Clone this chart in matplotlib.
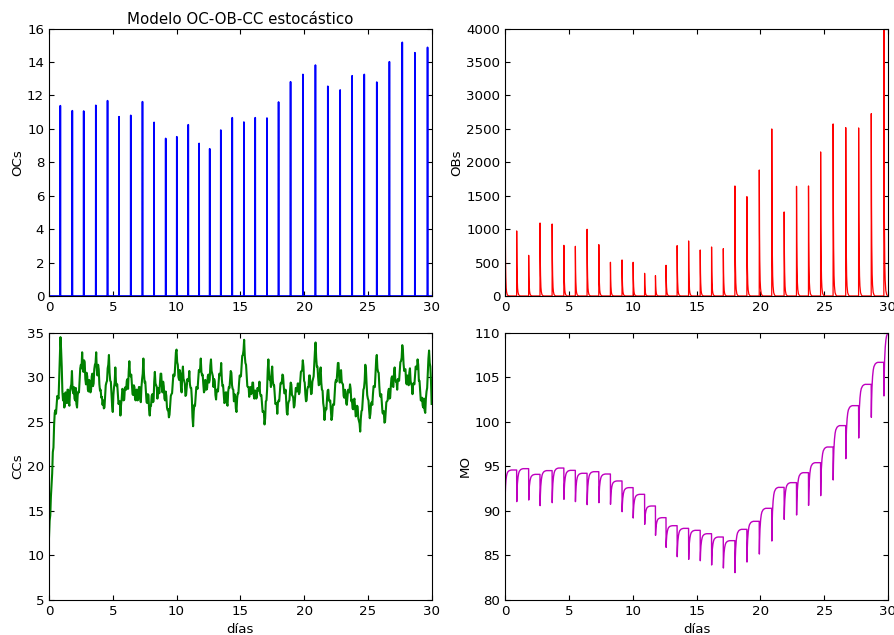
import numpy as np
import matplotlib
matplotlib.use("Agg")
import matplotlib.pyplot as plt

# ---- data -------------------------------------------------------------
# days at which each remodelling event (OC burst) happens
spike_days = [0.89, 1.83, 2.72, 3.67, 4.59, 5.49, 6.41, 7.33, 8.24, 9.15,
              10.02, 10.92, 11.77, 12.60, 13.47, 14.37, 15.28, 16.17, 17.09, 18.00,
              18.94, 19.91, 20.89, 21.86, 22.83, 23.77, 24.72, 25.70, 26.69, 27.70,
              28.69, 29.68]

# osteoclast peak at each event
oc_peaks = [11.39, 11.09, 11.07, 11.41, 11.69, 10.73, 10.81, 11.63, 10.39, 9.43,
            9.53, 10.25, 9.13, 8.81, 9.93, 10.67, 10.41, 10.67, 10.65, 11.61,
            12.82, 13.26, 13.82, 12.55, 12.33, 13.18, 13.26, 12.80, 14.02, 15.18,
            14.56, 14.88]

# osteoblast peak at each event (plus the initial value at day 0)
ob_initial = 1000
ob_peaks = [973, 608, 1092, 1077, 758, 743, 998, 768, 504, 539,
            504, 339, 304, 459, 753, 823, 688, 733, 708, 1646,
            1486, 1885, 2499, 1257, 1641, 1646, 2155, 2574, 2519, 2514,
            2728, 4000]
# decay of an OB burst: time after the peak (days) and fraction of the peak
ob_decay_dt = [0.0, 0.02, 0.04, 0.07, 0.10, 0.15, 0.22, 0.30]
ob_decay_frac = [1.0, 0.50, 0.28, 0.12, 0.06, 0.02, 0.005, 0.0]

# bone mass: level reached before each event and minimum right after it
mo_initial = 92.0
mo_plateaus = [94.59, 94.74, 94.10, 94.52, 94.81, 94.55, 94.22, 94.40, 94.14, 93.36,
               92.61, 91.86, 90.55, 89.24, 88.34, 88.04, 87.82, 87.44, 87.07, 86.66,
               87.93, 88.83, 90.29, 92.64, 93.17, 94.29, 95.41, 97.17, 99.57, 101.81,
               104.20, 106.67]
mo_dips = [91.04, 91.22, 90.59, 90.92, 91.30, 91.04, 90.70, 90.92, 90.74, 89.91,
           89.20, 88.49, 87.26, 85.91, 84.86, 84.56, 84.41, 83.93, 83.59, 83.07,
           84.26, 85.16, 86.62, 89.05, 89.54, 90.62, 91.71, 93.47, 95.86, 98.18,
           100.50, 102.90]
mo_final = 110.2
# recovery after a drop: time after the minimum (days) and fraction recovered
mo_rec_dt = [0.0, 0.02, 0.05, 0.10, 0.15, 0.20, 0.30, 0.40, 0.50]
mo_rec_frac = [0.0, 0.30, 0.55, 0.75, 0.86, 0.92, 0.97, 0.99, 1.0]

# chondrocyte count sampled every 0.05 day (one row = half a day)
cc_values = [
    12.0, 13.9, 14.5, 16.6, 17.8, 19.2, 21.6, 22.1, 24.6, 26.0,
    26.3, 25.9, 26.9, 27.9, 27.8, 27.6, 29.9, 31.8, 34.5, 33.1,
    31.2, 28.4, 27.4, 28.1, 26.6, 26.9, 28.3, 27.2, 27.1, 28.6,
    28.6, 27.1, 26.8, 28.4, 28.9, 29.2, 30.7, 28.6, 28.2, 28.9,
    27.6, 27.4, 28.8, 27.0, 26.6, 28.0, 28.4, 28.3, 29.6, 31.0,
    31.4, 31.0, 32.8, 31.0, 30.6, 31.9, 31.7, 29.8, 29.2, 30.5,
    30.1, 28.6, 28.4, 29.7, 29.5, 28.3, 28.6, 30.1, 30.4, 29.0,
    29.3, 30.9, 31.4, 31.6, 32.8, 30.8, 30.2, 31.4, 30.9, 29.2,
    28.5, 28.6, 27.7, 27.8, 26.9, 27.4, 26.5, 26.6, 27.8, 29.1,
    29.4, 29.6, 31.0, 31.4, 32.5, 30.5, 29.6, 29.5, 28.2, 26.8,
    26.1, 28.0, 28.9, 29.4, 31.1, 29.5, 29.0, 29.2, 28.1, 27.0,
    27.2, 27.3, 25.7, 26.9, 27.6, 28.7, 28.6, 27.4, 27.5, 28.8,
    28.9, 28.6, 29.6, 29.8, 28.7, 30.6, 31.8, 30.4, 30.1, 30.3,
    29.2, 28.1, 28.0, 29.1, 28.9, 27.5, 27.4, 28.6, 28.6, 27.4,
    27.6, 28.9, 28.9, 27.6, 27.2, 28.9, 29.8, 30.4, 32.1, 30.3,
    29.4, 29.5, 28.3, 27.2, 27.1, 28.1, 28.0, 26.3, 25.7, 26.8,
    26.8, 27.9, 28.1, 27.2, 27.3, 29.5, 30.6, 29.3, 29.1, 28.9,
    27.6, 28.8, 28.7, 28.2, 29.4, 30.4, 30.4, 29.0, 28.3, 29.5,
    29.0, 27.6, 27.4, 28.4, 27.9, 26.6, 26.3, 26.4, 25.5, 25.8,
    26.8, 27.9, 28.1, 28.2, 29.3, 30.3, 30.1, 30.2, 31.5, 32.8,
    33.1, 31.7, 31.4, 30.0, 29.7, 30.8, 30.4, 28.8, 28.3, 30.3,
    31.2, 29.8, 29.6, 29.3, 27.9, 28.0, 28.9, 29.8, 29.6, 29.6,
    30.7, 29.2, 28.8, 28.8, 27.6, 25.5, 24.5, 26.2, 26.9, 26.8,
    27.8, 28.9, 28.9, 28.7, 29.8, 30.8, 30.6, 31.0, 32.1, 30.6,
    30.2, 30.3, 29.2, 28.3, 28.5, 29.7, 29.6, 28.6, 28.8, 30.1,
    30.3, 29.4, 29.7, 31.3, 32.0, 30.7, 30.4, 30.1, 28.9, 29.8,
    29.5, 28.0, 27.5, 28.6, 28.6, 28.4, 29.4, 30.4, 30.2, 30.3,
    31.6, 29.8, 29.0, 29.1, 28.1, 27.1, 27.2, 28.3, 28.3, 27.0,
    26.8, 28.4, 28.9, 28.8, 29.8, 30.7, 30.5, 29.1, 28.7, 28.6,
    27.3, 28.1, 27.9, 26.5, 26.1, 27.6, 28.2, 28.2, 29.3, 30.2,
    30.1, 30.1, 31.2, 32.4, 32.5, 33.0, 34.2, 32.4, 31.6, 31.4,
    30.2, 29.0, 28.9, 28.9, 27.8, 28.8, 28.9, 28.1, 28.3, 29.4,
    29.4, 28.0, 27.6, 28.5, 28.5, 27.6, 27.8, 28.8, 28.6, 28.5,
    29.5, 28.2, 27.9, 28.0, 27.1, 26.1, 26.2, 26.0, 24.7, 25.4,
    27.3, 27.4, 28.6, 30.8, 32.0, 30.4, 29.7, 29.8, 28.9, 30.5,
    31.2, 29.6, 29.1, 29.1, 28.0, 27.0, 27.1, 27.1, 25.9, 27.2,
    27.4, 27.3, 28.3, 29.3, 29.4, 29.3, 30.3, 30.2, 29.1, 28.2,
    28.2, 28.6, 27.4, 26.0, 25.8, 27.0, 27.3, 27.4, 28.5, 29.4,
    29.2, 28.0, 27.9, 27.7, 26.6, 26.8, 27.8, 28.8, 28.7, 28.4,
    29.3, 29.3, 28.1, 28.3, 29.6, 30.6, 30.7, 30.8, 31.9, 31.2,
    29.6, 29.4, 28.1, 27.3, 27.4, 28.6, 28.9, 28.9, 30.2, 30.2,
    29.1, 28.1, 28.2, 29.5, 29.8, 30.1, 31.5, 32.9, 33.9, 32.2,
    31.2, 31.2, 30.0, 29.1, 29.2, 30.6, 31.1, 29.4, 28.6, 28.5,
    27.1, 26.6, 25.2, 26.1, 26.5, 26.4, 27.6, 28.5, 28.6, 27.4,
    27.3, 27.4, 26.2, 25.2, 25.6, 26.8, 27.0, 26.9, 28.1, 29.4,
    29.7, 29.5, 30.6, 31.6, 31.6, 30.0, 29.4, 30.6, 30.8, 29.5,
    29.3, 29.2, 27.9, 27.7, 28.6, 28.4, 27.1, 26.9, 27.8, 28.6,
    28.4, 28.3, 29.2, 28.7, 27.3, 27.5, 26.5, 26.4, 27.4, 27.6,
    26.6, 25.6, 25.8, 26.8, 26.7, 25.4, 25.1, 24.8, 23.9, 25.4,
    26.2, 26.3, 27.4, 28.6, 28.8, 29.6, 31.4, 30.9, 29.3, 28.0,
    27.6, 27.4, 26.3, 25.4, 25.9, 27.0, 27.2, 26.9, 28.1, 29.0,
    28.9, 28.9, 30.3, 31.9, 32.5, 31.0, 30.6, 30.5, 29.0, 28.0,
    27.8, 28.1, 27.1, 26.0, 25.9, 26.2, 24.9, 25.0, 26.1, 27.2,
    27.3, 27.4, 28.4, 28.7, 27.6, 27.7, 29.0, 29.9, 30.1, 29.0,
    28.9, 30.4, 31.1, 29.8, 29.5, 29.6, 28.6, 29.8, 29.8, 29.6,
    30.6, 31.7, 31.8, 32.2, 33.6, 33.0, 31.5, 30.7, 30.9, 30.9,
    29.4, 29.2, 30.2, 30.1, 29.1, 30.5, 31.0, 29.6, 29.2, 29.1,
    28.1, 29.3, 29.3, 29.2, 30.2, 31.2, 31.1, 30.9, 32.0, 31.4,
    29.6, 29.6, 28.5, 27.4, 27.4, 27.7, 26.8, 26.6, 27.6, 26.3,
    26.0, 27.6, 28.4, 28.8, 30.4, 32.1, 33.0, 31.6, 31.2, 29.6,
    27.0,
]
cc_step = 0.05

# ---- build the curves from the event data ------------------------------
# OC: narrow bursts on a zero baseline
oc_t, oc_y = [0.0], [0.0]
for t, p in zip(spike_days, oc_peaks):
    oc_t += [t - 0.01, t, t + 0.01]
    oc_y += [0.0, p, 0.0]
oc_t.append(30.0)
oc_y.append(0.0)

# OB: sharp rise followed by a fast decay
ob_t, ob_y = [], []
for dt, f in zip(ob_decay_dt, ob_decay_frac):
    ob_t.append(dt)
    ob_y.append(ob_initial * f)
for t, p in zip(spike_days, ob_peaks):
    ob_t.append(t)
    ob_y.append(0.0)
    for dt, f in zip(ob_decay_dt, ob_decay_frac):
        ob_t.append(t + 0.004 + dt)
        ob_y.append(p * f)
ob_t.append(30.5)
ob_y.append(0.0)

# MO: drop at each event, then recovery towards the next level
mo_t, mo_y = [], []
starts = [0.0] + [t + 0.01 for t in spike_days]
lows = [mo_initial] + mo_dips
targets = mo_plateaus + [mo_final]
ends = spike_days + [30.6]
for t0, lo, hi, t1 in zip(starts, lows, targets, ends):
    for dt, f in zip(mo_rec_dt, mo_rec_frac):
        if t0 + dt < t1:
            mo_t.append(t0 + dt)
            mo_y.append(lo + f * (hi - lo))
    mo_t.append(t1)
    mo_y.append(hi)

cc_t = np.arange(len(cc_values)) * cc_step

# ---- figure -------------------------------------------------------------
plt.rcParams.update({
    "font.family": "DejaVu Sans",
    "font.size": 9.6,
    "xtick.direction": "in",
    "ytick.direction": "in",
    "xtick.top": True,
    "ytick.right": True,
    "xtick.major.size": 3.5,
    "ytick.major.size": 3.5,
    "xtick.major.pad": 3.5,
    "ytick.major.pad": 3.5,
    "axes.linewidth": 0.8,
    "axes.labelpad": 2.0,
})

fig = plt.figure(figsize=(8.94, 6.35), dpi=100, facecolor="white")
w, h = 0.428, 0.421
ax_oc = fig.add_axes([0.0548, 0.5339, w, h])
ax_ob = fig.add_axes([0.5652, 0.5339, w, h])
ax_cc = fig.add_axes([0.0548, 0.0551, w, h])
ax_mo = fig.add_axes([0.5652, 0.0551, w, h])

ax_oc.plot(oc_t, oc_y, color=(0, 0, 1), lw=1.2)
ax_oc.set_ylim(0, 16)
ax_oc.set_yticks(np.arange(0, 17, 2))
ax_oc.set_ylabel("OCs")
ax_oc.set_title("Modelo OC-OB-CC estocástico", fontsize=10.8, pad=3.5)

ax_ob.plot(ob_t, ob_y, color=(1, 0, 0), lw=0.9)
ax_ob.set_ylim(0, 4000)
ax_ob.set_yticks(np.arange(0, 4001, 500))
ax_ob.set_ylabel("OBs")

ax_cc.plot(cc_t, cc_values, color=(0, 0.5, 0), lw=1.5)
ax_cc.set_ylim(5, 35)
ax_cc.set_yticks(np.arange(5, 36, 5))
ax_cc.set_ylabel("CCs")
ax_cc.set_xlabel("días", labelpad=4)

ax_mo.plot(mo_t, mo_y, color=(0.75, 0, 0.75), lw=1.0)
ax_mo.set_ylim(80, 110)
ax_mo.set_yticks(np.arange(80, 111, 5))
ax_mo.set_ylabel("MO")
ax_mo.set_xlabel("días", labelpad=4)

for ax in (ax_oc, ax_ob, ax_cc, ax_mo):
    ax.set_xlim(0, 30)
    ax.set_xticks(np.arange(0, 31, 5))

fig.savefig("out.png", dpi=100, facecolor="white")
